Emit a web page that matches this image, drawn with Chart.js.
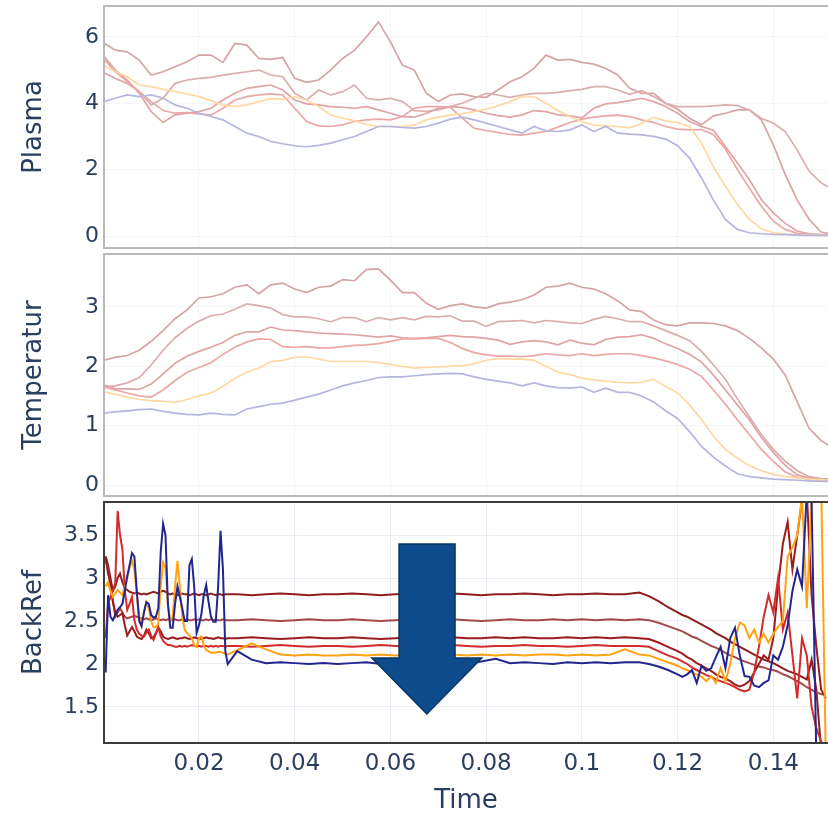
<!DOCTYPE html>
<html>
<head>
<meta charset="utf-8">
<title>Plasma / Temperatur / BackRef</title>
<script src="https://cdn.jsdelivr.net/npm/chart.js@4.4.1/dist/chart.umd.min.js"></script>
<style>
  html, body { margin: 0; padding: 0; background: #fff; overflow: hidden; }
  canvas { position: absolute; left: 0; }
</style>
</head>
<body>
<canvas id="plasmaChart" width="828" height="250" style="top:0px"></canvas>
<canvas id="tempChart" width="828" height="250" style="top:250px"></canvas>
<canvas id="backRefChart" width="828" height="318" style="top:500px"></canvas>
<script>
// shared x axis
var xMin = 0.00015;
var xMax = 0.15143;
var xTicks = [0.02, 0.04, 0.06, 0.08, 0.1, 0.12, 0.14];
var xTickLabels = ['0.02', '0.04', '0.06', '0.08', '0.1', '0.12', '0.14'];

// time grid of the two upper panels
var timeTop = [0, 0.0025, 0.005, 0.0075, 0.01, 0.0125, 0.015, 0.0175, 0.02, 0.0225,
  0.025, 0.0275, 0.03, 0.0325, 0.035, 0.0375, 0.04, 0.0425, 0.045, 0.0475,
  0.05, 0.0525, 0.055, 0.0575, 0.06, 0.0625, 0.065, 0.0675, 0.07, 0.0725,
  0.075, 0.0775, 0.08, 0.0825, 0.085, 0.0875, 0.09, 0.0925, 0.095, 0.0975,
  0.1, 0.1025, 0.105, 0.1075, 0.11, 0.1125, 0.115, 0.1175, 0.12, 0.1225,
  0.125, 0.1275, 0.13, 0.1325, 0.135, 0.1375, 0.14, 0.1425, 0.145, 0.1475,
  0.15, 0.1525];

// Plasma
var plasmaTicks = [0, 2, 4, 6];
var plasmaTickLabels = ['0', '2', '4', '6'];
var plasmaBlue = [4.04, 4.15, 4.25, 4.2, 4.25, 4.15, 3.95, 3.85, 3.7, 3.6,
  3.5, 3.3, 3.1, 3.0, 2.85, 2.78, 2.72, 2.69, 2.73, 2.8,
  2.9, 3.0, 3.15, 3.3, 3.3, 3.27, 3.25, 3.3, 3.4, 3.52,
  3.58, 3.5, 3.4, 3.3, 3.2, 3.1, 3.3, 3.17, 3.15, 3.2,
  3.35, 3.15, 3.3, 3.1, 3.07, 3.05, 3.0, 2.92, 2.72, 2.35,
  1.75, 1.08, 0.5, 0.2, 0.1, 0.07, 0.05, 0.04, 0.03, 0.02,
  0.02, 0.02];
var plasmaOrange = [5.15, 4.95, 4.8, 4.55, 4.5, 4.42, 4.36, 4.28, 4.2, 4.08,
  3.95, 3.9, 3.95, 4.05, 4.14, 4.12, 4.2, 4.1, 3.9, 3.65,
  3.55, 3.47, 3.36, 3.3, 3.3, 3.3, 3.34, 3.5, 3.58, 3.65,
  3.69, 3.75, 3.82, 3.92, 4.05, 4.2, 4.2, 4.0, 3.78, 3.6,
  3.45, 3.34, 3.32, 3.3, 3.26, 3.4, 3.58, 3.47, 3.42, 3.3,
  2.8, 2.08, 1.5, 0.95, 0.5, 0.22, 0.1, 0.06, 0.04, 0.03,
  0.02, 0.02];
var plasmaRed = [5.35, 4.95, 4.65, 4.35, 4.05, 3.78, 3.7, 3.72, 3.68, 3.64,
  3.85, 4.1, 4.2, 4.25, 4.28, 4.25, 3.85, 3.45, 3.32, 3.3,
  3.35, 3.45, 3.5, 3.52, 3.5, 3.6, 3.85, 3.9, 3.9, 3.88,
  3.55, 3.25, 3.18, 3.12, 3.06, 3.04, 3.1, 3.15, 3.28, 3.42,
  3.52, 3.58, 3.62, 3.64, 3.6, 3.5, 3.42, 3.3, 3.22, 3.2,
  3.21, 3.05, 2.62, 2.0, 1.45, 0.9, 0.45, 0.2, 0.08, 0.05,
  0.04, 0.03];
var plasmaDarkRed = [5.44, 5.0, 4.7, 4.3, 3.75, 3.42, 3.65, 3.7, 3.75, 3.85,
  4.1, 4.3, 4.45, 4.5, 4.55, 4.4, 4.1, 3.98, 3.95, 3.9,
  3.88, 3.85, 3.9, 3.8, 3.7, 3.6, 3.58, 3.7, 3.85, 3.9,
  3.87, 3.8, 3.7, 3.63, 3.58, 3.65, 3.78, 3.75, 3.65, 3.62,
  3.56, 3.85, 3.98, 4.02, 4.08, 4.15, 4.05, 3.9, 3.7, 3.45,
  3.3, 3.19, 2.7, 2.2, 1.7, 1.1, 0.7, 0.38, 0.15, 0.07,
  0.04, 0.03];
var plasmaBrown = [4.93, 4.75, 4.6, 4.35, 3.95, 4.15, 4.6, 4.7, 4.75, 4.78,
  4.85, 4.9, 4.95, 5.0, 4.85, 4.8, 4.3, 4.1, 4.4, 4.25,
  4.35, 4.55, 4.15, 4.1, 4.15, 4.05, 3.78, 3.76, 3.8, 3.9,
  4.0, 4.15, 4.3, 4.25, 4.18, 4.25, 4.3, 4.3, 4.33, 4.38,
  4.42, 4.5, 4.5, 4.4, 4.27, 4.38, 4.2, 4.0, 3.9, 3.9,
  3.9, 3.92, 3.95, 3.93, 3.8, 3.55, 3.4, 3.15, 2.59, 1.95,
  1.6, 1.4];
var plasmaTopRed = [5.83, 5.6, 5.55, 5.3, 4.85, 4.95, 5.1, 5.25, 5.45, 5.45,
  5.23, 5.8, 5.75, 5.35, 5.32, 5.38, 4.75, 4.63, 4.7, 5.0,
  5.35, 5.6, 6.0, 6.45, 5.85, 5.15, 5.0, 4.3, 4.05, 4.25,
  4.28, 4.2, 4.18, 4.4, 4.65, 4.8, 5.05, 5.45, 5.3, 5.32,
  5.23, 5.18, 5.05, 4.85, 4.45, 4.3, 4.3, 4.0, 3.82, 3.55,
  3.35, 3.62, 3.7, 3.8, 3.8, 3.5, 2.75, 1.85, 1.08, 0.5,
  0.12, 0.05];

// Temperatur
var tempTicks = [0, 1, 2, 3];
var tempTickLabels = ['0', '1', '2', '3'];
var tempBlue = [1.21, 1.23, 1.25, 1.27, 1.28, 1.24, 1.21, 1.19, 1.18, 1.21,
  1.19, 1.18, 1.28, 1.32, 1.36, 1.38, 1.43, 1.48, 1.53, 1.6,
  1.67, 1.72, 1.76, 1.81, 1.82, 1.82, 1.84, 1.86, 1.87, 1.88,
  1.87, 1.82, 1.78, 1.75, 1.72, 1.67, 1.72, 1.67, 1.64, 1.63,
  1.65, 1.56, 1.63, 1.56, 1.56, 1.5, 1.4, 1.25, 1.12, 0.9,
  0.65, 0.47, 0.32, 0.19, 0.14, 0.12, 0.1, 0.09, 0.08, 0.07,
  0.06, 0.06];
var tempOrange = [1.57, 1.53, 1.48, 1.44, 1.42, 1.41, 1.39, 1.44, 1.5, 1.55,
  1.66, 1.8, 1.9, 1.97, 2.08, 2.1, 2.15, 2.16, 2.12, 2.08,
  2.08, 2.08, 2.08, 2.06, 2.03, 2.0, 1.97, 1.98, 1.99, 2.0,
  2.01, 2.04, 2.1, 2.13, 2.12, 2.12, 2.1, 2.0, 1.9, 1.86,
  1.8, 1.77, 1.75, 1.73, 1.72, 1.73, 1.78, 1.66, 1.55, 1.35,
  1.1, 0.82, 0.6, 0.45, 0.33, 0.24, 0.18, 0.14, 0.12, 0.1,
  0.09, 0.08];
var tempRed = [1.65, 1.6, 1.55, 1.5, 1.48, 1.6, 1.76, 1.9, 1.98, 2.06,
  2.2, 2.32, 2.41, 2.46, 2.45, 2.33, 2.32, 2.33, 2.31, 2.31,
  2.33, 2.35, 2.36, 2.38, 2.42, 2.46, 2.46, 2.47, 2.47, 2.4,
  2.3, 2.23, 2.19, 2.17, 2.17, 2.16, 2.18, 2.21, 2.19, 2.18,
  2.21, 2.18, 2.2, 2.21, 2.21, 2.18, 2.14, 2.09, 2.03, 1.95,
  1.83, 1.6, 1.36, 1.1, 0.85, 0.6, 0.4, 0.22, 0.13, 0.1,
  0.08, 0.08];
var tempDarkRed = [1.69, 1.62, 1.62, 1.61, 1.7, 1.87, 2.05, 2.17, 2.25, 2.32,
  2.4, 2.52, 2.58, 2.58, 2.66, 2.61, 2.6, 2.58, 2.56, 2.55,
  2.54, 2.53, 2.51, 2.49, 2.51, 2.48, 2.47, 2.48, 2.5, 2.52,
  2.5, 2.49, 2.47, 2.44, 2.37, 2.41, 2.43, 2.41, 2.36, 2.44,
  2.39, 2.36, 2.45, 2.49, 2.5, 2.53, 2.47, 2.38, 2.3, 2.2,
  2.07, 1.85, 1.6, 1.35, 1.1, 0.8, 0.55, 0.33, 0.17, 0.12,
  0.1, 0.1];
var tempBrown = [1.65, 1.67, 1.72, 1.81, 2.02, 2.27, 2.48, 2.64, 2.76, 2.85,
  2.88, 2.96, 3.05, 3.02, 2.98, 2.87, 2.83, 2.83, 2.8, 2.75,
  2.82, 2.82, 2.75, 2.82, 2.78, 2.82, 2.78, 2.84, 2.83, 2.85,
  2.76, 2.76, 2.67, 2.75, 2.76, 2.77, 2.73, 2.77, 2.75, 2.73,
  2.72, 2.79, 2.84, 2.8, 2.75, 2.75, 2.68, 2.6, 2.52, 2.43,
  2.25, 2.02, 1.78, 1.45, 1.15, 0.85, 0.6, 0.4, 0.24, 0.14,
  0.11, 0.1];
var tempTopRed = [2.1, 2.15, 2.18, 2.27, 2.42, 2.6, 2.8, 2.95, 3.15, 3.17,
  3.22, 3.33, 3.37, 3.22, 3.37, 3.4, 3.3, 3.24, 3.33, 3.35,
  3.46, 3.44, 3.63, 3.64, 3.45, 3.24, 3.24, 3.06, 2.96, 3.02,
  3.05, 3.0, 2.98, 3.05, 3.08, 3.12, 3.2, 3.33, 3.35, 3.4,
  3.33, 3.3, 3.22, 3.1, 2.95, 2.92, 2.78, 2.7, 2.68, 2.73,
  2.73, 2.72, 2.68, 2.6, 2.47, 2.31, 2.12, 1.85, 1.4, 0.95,
  0.75, 0.62];

// BackRef: fine sampling at the start and the end, coarser on the plateau
var timeBack = [0.0005, 0.001, 0.0015, 0.002, 0.0025, 0.003, 0.0035, 0.004, 0.0045, 0.005,
  0.0055, 0.006, 0.0065, 0.007, 0.0075, 0.008, 0.0085, 0.009, 0.0095, 0.01,
  0.0105, 0.011, 0.0115, 0.012, 0.0125, 0.013, 0.0135, 0.014, 0.0145, 0.015,
  0.0155, 0.016, 0.0165, 0.017, 0.0175, 0.018, 0.0185, 0.019, 0.0195, 0.02,
  0.0205, 0.021, 0.0215, 0.022, 0.0225, 0.023, 0.0235, 0.024, 0.0245, 0.025,
  0.0255, 0.026,
  0.028, 0.031, 0.034, 0.037, 0.04, 0.043, 0.046, 0.049, 0.052, 0.055,
  0.058, 0.061, 0.064, 0.067, 0.07, 0.073, 0.076, 0.079, 0.082, 0.085,
  0.088, 0.091, 0.094, 0.097, 0.1, 0.103, 0.106, 0.109, 0.112,
  0.114, 0.116, 0.118, 0.12, 0.121, 0.122, 0.123, 0.124, 0.125, 0.126,
  0.127, 0.128, 0.129, 0.13, 0.131, 0.132, 0.133, 0.134, 0.135, 0.136,
  0.137, 0.138, 0.139, 0.14, 0.141, 0.142, 0.143, 0.144, 0.145, 0.146,
  0.147, 0.148, 0.149, 0.15, 0.151];
var backTicks = [1.5, 2, 2.5, 3, 3.5];
var backTickLabels = ['1.5', '2', '2.5', '3', '3.5'];
var backBlue = [1.9, 2.8, 2.55, 2.51, 2.57, 2.63, 2.66, 2.7, 2.85, 3.02,
  3.15, 3.29, 3.25, 2.85, 2.5, 2.44, 2.6, 2.72, 2.7, 2.57,
  2.54, 2.55, 2.65, 3.3, 3.63, 3.5, 2.7, 2.42, 2.42, 2.7,
  2.9, 2.78, 2.65, 2.5, 2.5, 3.15, 3.22, 2.9, 2.36, 2.45,
  2.58, 2.8, 2.92, 2.72, 2.55, 2.49, 2.49, 2.9, 3.55, 3.1,
  2.15, 2.0,
  2.15, 2.05, 2.01, 2.02, 2.01, 2.0, 2.01, 2.0, 2.01, 2.02,
  2.0, 2.01, 2.01, 2.02, 2.01, 2.0, 2.01, 2.03, 2.06, 2.01,
  2.02, 2.01, 2.0, 2.02, 2.01, 2.02, 2.01, 2.02, 2.02,
  2.0, 1.97, 1.93, 1.88, 1.85, 1.88, 1.93, 1.78, 1.98, 1.92,
  1.95, 2.08, 2.2, 1.95, 2.3, 2.42, 2.1, 1.86, 1.85, 1.75,
  1.73, 1.78, 1.81, 2.1, 2.05, 2.2, 2.45, 2.85, 3.1, 2.9,
  4.0, 3.9, 0.9, 0.9, 0.9];
var backOrange = [2.9, 2.95, 2.85, 2.78, 2.82, 2.86, 2.83, 2.8, 2.9, 3.0,
  3.12, 3.2, 3.1, 2.8, 2.55, 2.45, 2.6, 2.72, 2.65, 2.5,
  2.43, 2.43, 2.47, 2.9, 3.18, 3.12, 2.7, 2.5, 2.55, 2.9,
  3.2, 2.9, 2.55, 2.4, 2.36, 2.33, 2.3, 2.22, 2.2, 2.3,
  2.32, 2.22, 2.16, 2.15, 2.13, 2.13, 2.13, 2.14, 2.14, 2.13,
  2.12, 2.11,
  2.16, 2.24, 2.17, 2.11, 2.1, 2.11, 2.1, 2.1, 2.11, 2.1,
  2.11, 2.1, 2.11, 2.1, 2.1, 2.11, 2.1, 2.11, 2.1, 2.11,
  2.1, 2.11, 2.11, 2.1, 2.11, 2.1, 2.11, 2.17, 2.11,
  2.1, 2.06, 2.02, 1.98, 1.95, 1.93, 1.9, 1.88, 1.85, 1.8,
  1.86, 1.78, 1.95, 1.8, 2.0, 2.3, 2.48, 2.45, 2.3, 2.4,
  2.25, 2.35, 2.25, 2.35, 2.43, 2.5, 3.25, 3.35, 3.5, 3.95,
  2.65, 3.9, 4.1, 4.1, 0.8];
var backRed = [2.3, 2.7, 2.78, 2.85, 2.94, 3.78, 3.5, 3.33, 2.86, 2.63,
  2.7, 2.78, 2.51, 2.4, 2.35, 2.33, 2.32, 2.36, 2.4, 2.33,
  2.28, 2.35, 2.43, 2.32, 2.27, 2.24, 2.22, 2.22, 2.21, 2.2,
  2.2, 2.21, 2.2, 2.21, 2.2, 2.21, 2.22, 2.21, 2.2, 2.21,
  2.2, 2.21, 2.21, 2.2, 2.21, 2.2, 2.21, 2.2, 2.21, 2.21,
  2.2, 2.21,
  2.21, 2.2, 2.21, 2.22, 2.21, 2.2, 2.21, 2.21, 2.2, 2.21,
  2.22, 2.21, 2.2, 2.21, 2.21, 2.22, 2.21, 2.2, 2.21, 2.21,
  2.22, 2.21, 2.21, 2.2, 2.21, 2.22, 2.21, 2.21, 2.21,
  2.2, 2.15, 2.1, 2.06, 2.03, 2.0, 1.96, 1.93, 1.9, 1.87,
  1.85, 1.82, 1.8, 1.78, 1.76, 1.73, 1.7, 1.68, 1.7, 1.9,
  2.2, 2.55, 2.8, 2.6, 3.0, 2.4, 2.6, 2.1, 1.6, 2.3,
  2.1, 1.5, 1.25, 1.1, 1.0];
var backDarkRed = [3.25, 3.05, 2.95, 2.72, 2.6, 2.55, 2.57, 2.59, 2.45, 2.33,
  2.38, 2.43, 2.38, 2.32, 2.3, 2.29, 2.33, 2.4, 2.36, 2.3,
  2.31, 2.36, 2.42, 2.38, 2.32, 2.3, 2.29, 2.3, 2.31, 2.3,
  2.29, 2.3, 2.3, 2.31, 2.3, 2.29, 2.3, 2.31, 2.3, 2.3,
  2.29, 2.3, 2.31, 2.3, 2.3, 2.29, 2.3, 2.31, 2.3, 2.3,
  2.29, 2.3,
  2.3, 2.31, 2.3, 2.29, 2.3, 2.31, 2.3, 2.3, 2.31, 2.3,
  2.29, 2.3, 2.31, 2.3, 2.3, 2.31, 2.3, 2.3, 2.31, 2.3,
  2.31, 2.3, 2.3, 2.31, 2.3, 2.31, 2.3, 2.31, 2.3,
  2.29, 2.25, 2.2, 2.15, 2.12, 2.08, 2.05, 2.01, 1.98, 1.95,
  1.92, 1.88, 1.85, 1.83, 1.8, 1.76, 1.74, 1.76, 1.8, 1.9,
  2.0, 2.1, 2.05, 2.3, 2.9, 3.4, 3.65, 3.1, 3.5, 3.9,
  4.0, 2.8, 2.2, 1.7, 1.6];
var backBrown = [3.2, 3.1, 2.9, 2.75, 2.55, 2.6, 2.65, 2.6, 2.55, 2.53,
  2.54, 2.55, 2.56, 2.55, 2.54, 2.53, 2.52, 2.53, 2.52, 2.51,
  2.52, 2.53, 2.52, 2.51, 2.52, 2.51, 2.52, 2.52, 2.51, 2.52,
  2.51, 2.51, 2.52, 2.51, 2.52, 2.51, 2.51, 2.52, 2.51, 2.52,
  2.51, 2.51, 2.52, 2.51, 2.52, 2.51, 2.52, 2.51, 2.51, 2.52,
  2.51, 2.51,
  2.51, 2.52, 2.51, 2.5, 2.51, 2.52, 2.51, 2.51, 2.52, 2.51,
  2.5, 2.51, 2.52, 2.51, 2.51, 2.52, 2.51, 2.5, 2.51, 2.52,
  2.51, 2.51, 2.52, 2.51, 2.52, 2.51, 2.52, 2.51, 2.52,
  2.51, 2.48, 2.44, 2.4, 2.38, 2.35, 2.32, 2.3, 2.27, 2.24,
  2.21, 2.19, 2.16, 2.13, 2.1, 2.08, 2.05, 2.03, 2.01, 1.99,
  1.97, 1.96, 1.94, 1.93, 1.91, 1.88, 1.86, 1.83, 1.8, 1.77,
  1.73, 1.7, 1.67, 1.65, 1.64];
var backTopRed = [3.25, 3.15, 3.0, 2.85, 2.9, 3.0, 3.05, 2.95, 2.88, 2.86,
  2.84, 2.83, 2.82, 2.83, 2.82, 2.81, 2.82, 2.81, 2.82, 2.83,
  2.84, 2.83, 2.82, 2.84, 2.85, 2.84, 2.82, 2.81, 2.82, 2.81,
  2.8, 2.81, 2.82, 2.81, 2.81, 2.8, 2.81, 2.82, 2.81, 2.8,
  2.81, 2.81, 2.8, 2.81, 2.82, 2.81, 2.8, 2.81, 2.81, 2.8,
  2.81, 2.81,
  2.81, 2.8, 2.81, 2.82, 2.81, 2.8, 2.81, 2.81, 2.82, 2.81,
  2.8, 2.81, 2.82, 2.81, 2.81, 2.82, 2.81, 2.8, 2.81, 2.81,
  2.82, 2.81, 2.8, 2.81, 2.81, 2.82, 2.81, 2.81, 2.83,
  2.79, 2.73, 2.66, 2.6, 2.57, 2.55, 2.52, 2.49, 2.46, 2.43,
  2.4, 2.36, 2.33, 2.3, 2.26, 2.23, 2.2, 2.17, 2.14, 2.11,
  2.08, 2.05, 2.03, 2.01, 1.98, 1.95, 1.92, 1.9, 1.88, 1.85,
  1.82, 2.05, 1.7, 1.0, 1.0];

// arrow annotation in data units: head left, shaft left, tip, shaft right, head right
var arrowX = [0.0561, 0.0618, 0.0676, 0.0735, 0.0791];
// shaft top, head base, tip
var arrowY = [3.395, 2.07, 1.418];

var fontFace = "'DejaVu Sans', Verdana, sans-serif";
var textColor = '#2a3f5f';
var strongColors = ['#23268f', '#ffa312', '#d32b2b', '#9c1c1c', '#a4484b', '#8f1e1e'];
var fadedColors = ['#b5b6df', '#ffd8a2', '#eca6a6', '#dfa4a4', '#dbadad', '#d6a4a4'];

Chart.defaults.font.family = fontFace;
Chart.defaults.color = textColor;

const framePlugin = {
    id: 'frame',
    afterDraw(chart, args, opts) {
        const a = chart.chartArea;
        const ctx = chart.ctx;
        ctx.save();
        ctx.strokeStyle = opts.color;
        ctx.lineWidth = opts.width;
        ctx.beginPath();
        ctx.moveTo(a.right + 4, a.top);
        ctx.lineTo(a.left, a.top);
        ctx.lineTo(a.left, a.bottom);
        ctx.lineTo(a.right + 4, a.bottom);
        ctx.stroke();
        ctx.restore();
    }
};

const arrowPlugin = {
    id: 'downArrow',
    afterDatasetsDraw(chart) {
        const xs = chart.scales.x, ys = chart.scales.y;
        const px = arrowX.map(v => xs.getPixelForValue(v));
        const py = arrowY.map(v => ys.getPixelForValue(v));
        const ctx = chart.ctx;
        ctx.save();
        ctx.beginPath();
        ctx.moveTo(px[1], py[0]);
        ctx.lineTo(px[3], py[0]);
        ctx.lineTo(px[3], py[1]);
        ctx.lineTo(px[4], py[1]);
        ctx.lineTo(px[2], py[2]);
        ctx.lineTo(px[0], py[1]);
        ctx.lineTo(px[1], py[1]);
        ctx.closePath();
        ctx.fillStyle = '#0d4b8c';
        ctx.fill();
        ctx.strokeStyle = '#093764';
        ctx.lineWidth = 1.5;
        ctx.stroke();
        ctx.restore();
    }
};

function makePanel(canvasId, time, series, look) {
    const datasets = series.map((s, i) => ({
        data: s.map((v, j) => ({ x: time[j], y: v })),
        borderColor: look.colors[i],
        borderWidth: look.lineWidth,
        pointRadius: 0,
        tension: 0,
        clip: 0
    }));
    const extra = [framePlugin];
    if (look.arrow) extra.push(arrowPlugin);
    return new Chart(document.getElementById(canvasId), {
        type: 'line',
        data: { datasets: datasets },
        options: {
            responsive: false,
            animation: false,
            devicePixelRatio: 1,
            layout: { padding: { top: look.padTop, bottom: look.padBottom, left: 0, right: 0 } },
            plugins: {
                legend: { display: false },
                tooltip: { enabled: false },
                frame: { color: look.frameColor, width: 2 }
            },
            scales: {
                x: {
                    type: 'linear',
                    min: xMin,
                    max: xMax,
                    afterBuildTicks: s => { s.ticks = xTicks.map(v => ({ value: v })); },
                    afterFit: s => { s.height = look.xHeight; s.paddingLeft = 0; s.paddingRight = 0; },
                    grid: { color: look.gridColor, lineWidth: 1, drawTicks: false },
                    border: { display: false },
                    ticks: {
                        display: look.showX,
                        padding: 7,
                        color: textColor,
                        font: { size: 23 },
                        maxRotation: 0,
                        callback: (v, i) => xTickLabels[i]
                    },
                    title: {
                        display: look.showX,
                        text: 'Time',
                        color: textColor,
                        font: { size: 26 },
                        padding: { top: 0, bottom: 1 }
                    }
                },
                y: {
                    min: look.yMin,
                    max: look.yMax,
                    afterBuildTicks: s => { s.ticks = look.yTicks.map(v => ({ value: v })); },
                    afterFit: s => { s.width = 104; s.paddingTop = 0; s.paddingBottom = 0; },
                    grid: { color: look.gridColor, lineWidth: 1, drawTicks: false },
                    border: { display: false },
                    ticks: {
                        padding: 5,
                        color: textColor,
                        font: { size: 22 },
                        callback: (v, i) => look.yLabels[i]
                    },
                    title: {
                        display: true,
                        text: look.title,
                        color: textColor,
                        font: { size: 26 },
                        padding: { top: 19, bottom: 0 }
                    }
                }
            }
        },
        plugins: extra
    });
}

makePanel('plasmaChart', timeTop,
    [plasmaBlue, plasmaOrange, plasmaRed, plasmaDarkRed, plasmaBrown, plasmaTopRed], {
    colors: fadedColors, lineWidth: 1.7, padTop: 6, padBottom: 2, xHeight: 0, showX: false,
    gridColor: '#f3f5f9', frameColor: '#b9b9b9', yMin: -0.36, yMax: 6.93,
    yTicks: plasmaTicks, yLabels: plasmaTickLabels, title: 'Plasma'
});

makePanel('tempChart', timeTop,
    [tempBlue, tempOrange, tempRed, tempDarkRed, tempBrown, tempTopRed], {
    colors: fadedColors, lineWidth: 1.7, padTop: 4, padBottom: 4, xHeight: 0, showX: false,
    gridColor: '#f3f5f9', frameColor: '#b9b9b9', yMin: -0.185, yMax: 3.89,
    yTicks: tempTicks, yLabels: tempTickLabels, title: 'Temperatur'
});

makePanel('backRefChart', timeBack,
    [backBlue, backOrange, backRed, backDarkRed, backBrown, backTopRed], {
    colors: strongColors, lineWidth: 2, padTop: 2, padBottom: 0, xHeight: 75, showX: true,
    gridColor: '#e7ecf5', frameColor: '#3c3c3c', yMin: 1.081, yMax: 3.884,
    yTicks: backTicks, yLabels: backTickLabels, title: 'BackRef', arrow: true
});
</script>
</body>
</html>
